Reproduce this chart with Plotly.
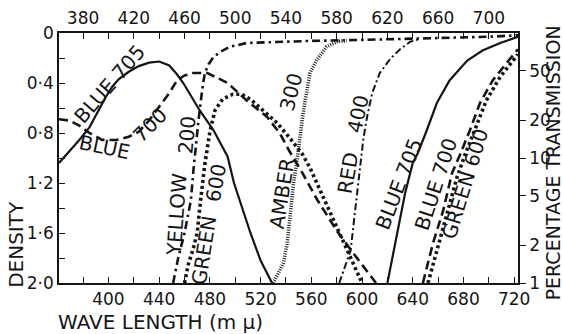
import math
import plotly.graph_objects as go

# ---------------- data ----------------
# wavelength (m mu) and density; None separates the two branches of a filter
blue705_wl = [361, 369, 377, 385, 392, 398, 403, 408, 416, 424, 432, 440, 448, 454, 459, 465, 472, 483, 494, 499, 504, 512, 520, 529,
              None, 620, 628, 634, 640, 644, 651, 659, 669, 683, 695, 709, 723]
blue705_d = [1.04, 0.95, 0.856, 0.755, 0.62, 0.51, 0.43, 0.37, 0.31, 0.265, 0.237, 0.228, 0.26, 0.33, 0.40, 0.50, 0.62, 0.78, 0.99, 1.2, 1.35, 1.6, 1.82, 2.0,
             None, 2.0, 1.6, 1.28, 1.04, 0.96, 0.78, 0.56, 0.38, 0.22, 0.14, 0.08, 0.03]

blue700_wl = [361, 369, 377, 385, 395, 406, 416, 424, 432, 440, 448, 454, 460, 467, 478, 494, 509, 525, 535, 543, 553, 565, 580, 593, 611,
              None, 648, 656, 664, 671, 677, 685, 693, 703, 714, 723]
blue700_d = [0.69, 0.70, 0.74, 0.80, 0.855, 0.856, 0.83, 0.79, 0.70, 0.59, 0.48, 0.38, 0.34, 0.32, 0.32, 0.40, 0.54, 0.67, 0.80, 0.95, 1.12, 1.34, 1.58, 1.76, 2.0,
             None, 2.0, 1.68, 1.42, 1.12, 0.98, 0.78, 0.56, 0.38, 0.24, 0.13]

yellow200_wl = [451, 455, 460, 465, 467, 469, 471, 474, 476, 479, 483, 490, 496, 509, 535, 557, 600, 650, 700, 723]
yellow200_d = [2.0, 1.8, 1.6, 1.34, 1.1, 0.88, 0.70, 0.45, 0.32, 0.25, 0.19, 0.14, 0.11, 0.08, 0.07, 0.064, 0.055, 0.045, 0.03, 0.018]

green600_wl = [460, 463, 467, 470, 472, 474, 476, 480, 484, 490, 498, 505, 512, 522, 533, 543, 553, 559, 567, 575, 583, 591, 600,
               None, 652, 660, 668, 675, 681, 690, 698, 709, 719, 723]
green600_d = [2.0, 1.85, 1.72, 1.6, 1.4, 1.22, 1.05, 0.79, 0.62, 0.53, 0.49, 0.49, 0.53, 0.62, 0.72, 0.84, 0.97, 1.08, 1.26, 1.44, 1.63, 1.8, 2.0,
              None, 2.0, 1.70, 1.40, 1.15, 0.98, 0.75, 0.54, 0.35, 0.22, 0.17]

amber300_wl = [530, 534, 538, 541, 543, 546, 549, 551, 553, 555, 557, 559, 564, 572, 580, 588]
amber300_d = [2.0, 1.92, 1.84, 1.68, 1.47, 1.2, 1.0, 0.82, 0.68, 0.55, 0.42, 0.32, 0.22, 0.11, 0.07, 0.06]

red400_wl = [582, 587, 591, 594, 597, 599, 601, 604, 608, 614, 622, 630, 638, 645]
red400_d = [2.0, 1.86, 1.74, 1.47, 1.2, 0.98, 0.85, 0.67, 0.48, 0.32, 0.21, 0.13, 0.07, 0.05]

# tick labels
bottom_ticks = [400, 440, 480, 520, 560, 600, 640, 680, 720]
top_ticks = [380, 420, 460, 500, 540, 580, 620, 660, 700]
density_ticks = [0, 0.4, 0.8, 1.2, 1.6, 2.0]
density_text = ["0", "0·4", "0·8", "1·2", "1·6", "2·0"]
transmission_ticks = [50, 20, 10, 5, 2, 1]

# ---------------- figure ----------------
INK = "#151515"
FONT = "DejaVu Sans"

fig = go.Figure()

def add(wl, d, width, dash, color=INK):
    fig.add_trace(go.Scatter(x=wl, y=d, mode="lines", connectgaps=False,
                             line=dict(color=color, width=width, dash=dash),
                             hoverinfo="skip", showlegend=False))

add(blue705_wl, blue705_d, 2.2, "solid")
add(blue700_wl, blue700_d, 2.6, "9px,5px")
add(yellow200_wl, yellow200_d, 2.6, "8px,4px,2.5px,4px")
add(green600_wl, green600_d, 3.6, "3px,3px")
add(amber300_wl, amber300_d, 3.6, "1px,1.4px", "#1e1e1e")
add(red400_wl, red400_d, 2.0, "7px,3px,2px,3px")

# dummy trace to carry the secondary axes
fig.add_trace(go.Scatter(x=[None], y=[None], xaxis="x2", yaxis="y2",
                         showlegend=False, hoverinfo="skip"))

XR = [361, 723]
YR = [2.0, 0.0]
tickfont = dict(family=FONT, size=17, color=INK)

common = dict(showline=True, linecolor=INK, linewidth=1.5, showgrid=False,
              zeroline=False, tickfont=tickfont, automargin=False,
              tickwidth=1, tickcolor=INK, ticklen=6)

fig.update_layout(
    width=563, height=334,
    margin=dict(l=59, r=45, t=33, b=51),
    paper_bgcolor="white", plot_bgcolor="white",
    font=dict(family=FONT, color=INK),
    xaxis=dict(range=XR, tickmode="array", tickvals=bottom_ticks,
               ticktext=[str(v) for v in bottom_ticks], ticks="inside",
               minor=dict(ticks="inside", ticklen=6, tick0=0, dtick=20, tickcolor=INK),
               **common),
    xaxis2=dict(range=XR, overlaying="x", side="top", anchor="y",
                tickmode="array", tickvals=top_ticks,
                ticktext=[str(v) for v in top_ticks], ticks="inside",
                minor=dict(ticks="inside", ticklen=6, tick0=0, dtick=20, tickcolor=INK),
                **common),
    yaxis=dict(range=YR, tickmode="array", tickvals=density_ticks,
               ticktext=density_text, ticks="inside",
               minor=dict(ticks="inside", ticklen=6, tick0=0, dtick=0.2, tickcolor=INK),
               **common),
    yaxis2=dict(range=YR, overlaying="y", side="right", anchor="x",
                tickmode="array",
                tickvals=[-math.log10(t / 100.0) for t in transmission_ticks],
                ticktext=[str(t) for t in transmission_ticks], ticks="outside",
                **common),
)

lab = dict(family=FONT, size=20, color=INK)
curve_labels = [
    ("BLUE 705", 401, 0.41, -49),
    ("BLUE", 396.5, 0.912, 12),
    ("700", 432.8, 0.736, -45),
    ("YELLOW", 454, 1.45, -86),
    ("200", 462, 0.816, -85),
    ("GREEN", 475.4, 1.736, -81),
    ("600", 484.8, 1.2, -80),
    ("AMBER", 536.9, 1.288, -81),
    ("300", 544, 0.472, -76),
    ("RED", 588.9, 1.12, -80),
    ("400", 596.8, 0.648, -78),
    ("BLUE 705", 629.0, 1.208, -69),
    ("BLUE 700", 658.3, 1.208, -72),
    ("GREEN 600", 681.2, 1.208, -73),
]
for text, xv, yv, ang in curve_labels:
    fig.add_annotation(x=xv, y=yv, xref="x", yref="y", text=text, showarrow=False,
                       textangle=ang, font=lab, xanchor="center", yanchor="middle")

fig.add_annotation(x=0.222, y=-0.156, xref="paper", yref="paper",
                   text="WAVE LENGTH (m μ)", showarrow=False,
                   font=dict(family=FONT, size=20, color=INK),
                   xanchor="center", yanchor="middle")
fig.add_annotation(x=-0.094, y=0.156, xref="paper", yref="paper",
                   text="DENSITY", showarrow=False,
                   font=dict(family=FONT, size=20, color=INK), textangle=-90,
                   xanchor="center", yanchor="middle")
fig.add_annotation(x=1.077, y=0.48, xref="paper", yref="paper",
                   text="PERCENTAGE TRANSMISSION", showarrow=False,
                   font=dict(family=FONT, size=19, color=INK),
                   textangle=-90, xanchor="center", yanchor="middle")

fig.write_html("out.html", config={"displayModeBar": False},
               post_script="document.body.style.margin='0';document.body.style.padding='0';")
